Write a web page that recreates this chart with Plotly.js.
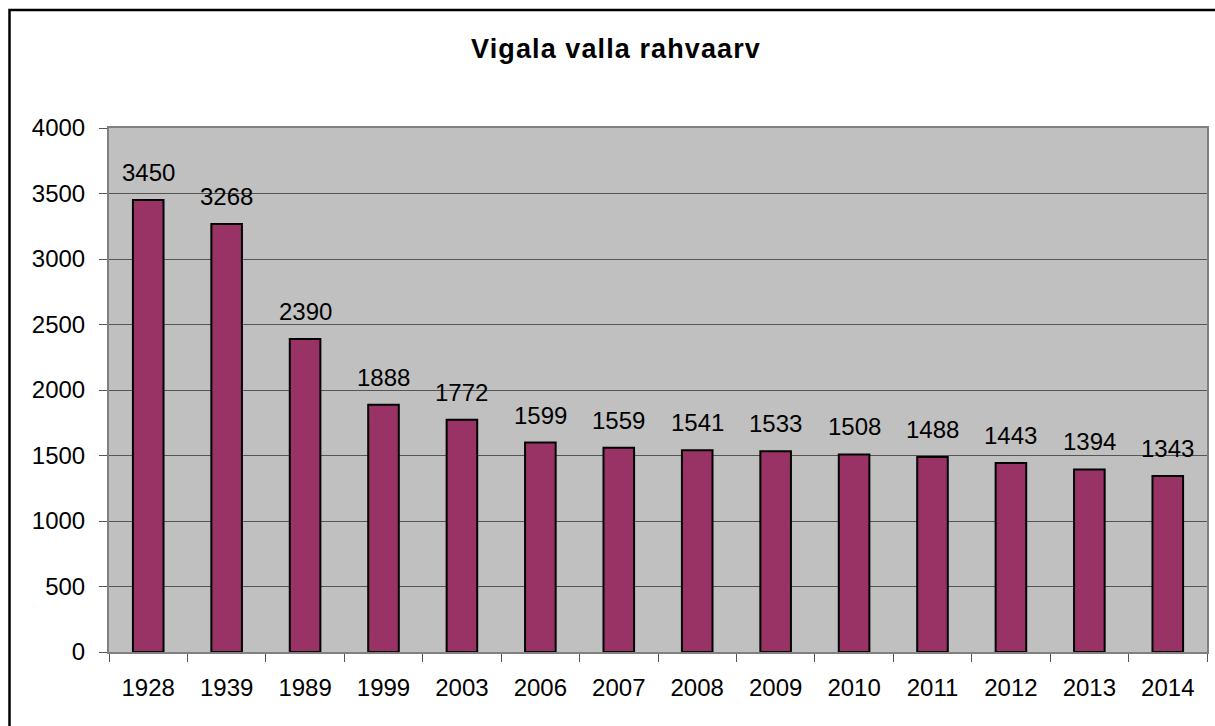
<!DOCTYPE html>
<html>
<head>
<meta charset="utf-8">
<script src="https://cdn.plot.ly/plotly-3.0.1.min.js"></script>
<style>
  html, body { margin: 0; padding: 0; background: #ffffff; }
  #chart { width: 1215px; height: 726px; }
  #chart .gtitle { letter-spacing: 1.1px; }
</style>
</head>
<body>
<div id="chart"></div>
<script>
const years = ['1928','1939','1989','1999','2003','2006','2007','2008','2009','2010','2011','2012','2013','2014'];
const population = [3450,3268,2390,1888,1772,1599,1559,1541,1533,1508,1488,1443,1394,1343];
const yTicks = [0,500,1000,1500,2000,2500,3000,3500,4000];
const chartTitle = 'Vigala valla rahvaarv';

const W = 1215, H = 726;
const M = {l: 109, r: 8, t: 128, b: 74};
const plotW = W - M.l - M.r, plotH = H - M.t - M.b;
const px2x = p => (p - M.l) / plotW;
const py2y = p => (H - M.b - p) / plotH;

const font = "'Liberation Sans', Arial, Helvetica, sans-serif";

const trace = {
  type: 'bar',
  x: years,
  y: population,
  width: 0.39,
  marker: {color: '#993366', line: {color: '#000000', width: 2}},
  hoverinfo: 'x+y'
};

// category index positions for the data labels
const annotations = years.map((yr, i) => ({
  x: i, y: population[i], xref: 'x', yref: 'y',
  text: String(population[i]), showarrow: false,
  yanchor: 'bottom', yshift: 12,
  font: {family: font, size: 24, color: '#000000'}
}));

const layout = {
  width: W, height: H,
  margin: M,
  paper_bgcolor: '#ffffff',
  plot_bgcolor: '#c0c0c0',
  showlegend: false,
  title: {
    text: '<b>' + chartTitle + '</b>',
    x: 616 / W, xanchor: 'center', xref: 'container',
    y: 1 - 49 / H, yanchor: 'middle', yref: 'container',
    font: {family: font, size: 27, color: '#000000'}
  },
  xaxis: {
    type: 'category',
    categoryorder: 'array', categoryarray: years,
    range: [-0.5, years.length - 0.5],
    tickson: 'boundaries',
    ticks: 'outside', ticklen: 8, tickcolor: '#555555', tickwidth: 1,
    showline: true, linecolor: '#808080', linewidth: 2, mirror: true,
    showgrid: false,
    tickangle: 0,
    ticklabelstandoff: 13,
    tickfont: {family: font, size: 24, color: '#000000'}
  },
  yaxis: {
    range: [0, 4000],
    tickvals: yTicks,
    ticktext: yTicks.map(String),
    ticks: 'outside', ticklen: 8, tickcolor: '#555555', tickwidth: 1,
    showline: true, linecolor: '#808080', linewidth: 2, mirror: true,
    showgrid: true, gridcolor: '#555555', gridwidth: 1,
    zeroline: false,
    ticklabelstandoff: 9,
    tickfont: {family: font, size: 24, color: '#000000'}
  },
  annotations: annotations,
  shapes: [{
    type: 'rect', xref: 'paper', yref: 'paper', layer: 'above',
    x0: px2x(9.5), x1: px2x(1230), y0: py2y(740), y1: py2y(10),
    line: {color: '#000000', width: 2.5}, fillcolor: 'rgba(0,0,0,0)'
  }]
};

Plotly.newPlot('chart', [trace], layout, {displayModeBar: false, staticPlot: true});
</script>
</body>
</html>
